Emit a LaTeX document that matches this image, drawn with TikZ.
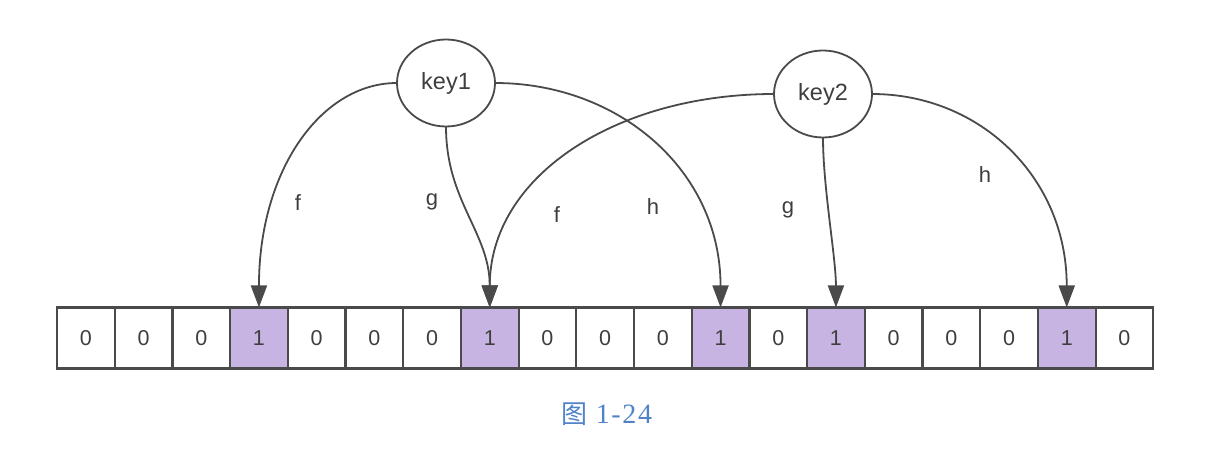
\documentclass[tikz,border=0pt]{standalone}
\usepackage{fontspec}
\setmainfont{Liberation Sans}
\newfontfamily\cjkfont{Noto Sans CJK SC}
\newfontfamily\capfont[LetterSpace=6]{Liberation Serif}
\usetikzlibrary{arrows.meta,shapes.geometric}
\definecolor{linecol}{RGB}{74,74,74}
\definecolor{txtcol}{RGB}{62,62,62}
\definecolor{bitfill}{RGB}{200,180,226}
\definecolor{capblue}{RGB}{80,130,198}
\tikzset{
  cellbox/.style={draw=linecol, line width=2.2pt, minimum width=57.7pt, minimum height=61pt,
    inner sep=0pt, outer sep=0pt, text=txtcol, font=\fontsize{21.5}{24}\selectfont},
  onebox/.style={cellbox, fill=bitfill},
  keynode/.style={draw=linecol, line width=1.8pt, ellipse, minimum width=98pt, minimum height=87pt,
    inner sep=0pt, outer sep=0pt, text=txtcol, font=\fontsize{23.5}{26}\selectfont},
  hashline/.style={draw=linecol, line width=1.8pt, -{Triangle[length=22pt,width=16pt]}},
  hashlabel/.style={text=txtcol, font=\fontsize{22}{24}\selectfont, inner sep=0pt}
}
\begin{document}
\begin{tikzpicture}[x=1pt,y=-1pt]
\useasboundingbox (0,0) rectangle (1227,457);
\foreach \i/\v in {0/0,1/0,2/0,3/1,4/0,5/0,6/0,7/1,8/0,9/0,10/0,11/1,12/0,13/1,14/0,15/0,16/0,17/1,18/0}{
  \ifnum\v=1
    \node[onebox] (c\i) at ({57+57.7*(\i+0.5)},338) {\v};
  \else
    \node[cellbox] (c\i) at ({57+57.7*(\i+0.5)},338) {\v};
  \fi
}
\node[keynode] (k1) at (446,83) {key1};
\node[keynode] (k2) at (823,94) {key2};
% key1 connectors
\draw[hashline] (k1.west) .. controls +(-76,0) and +(0,-137) .. (c3.north);
\draw[hashline] (k1.south) .. controls +(0,75) and +(0,-75) .. (c7.north);
\draw[hashline] (k1.east) .. controls +(124,0) and +(0,-137) .. (c11.north);
% key2 connectors
\draw[hashline] (k2.west) .. controls +(-157,0) and +(0,-132) .. (c7.north);
\draw[hashline] (k2.south) .. controls +(0,50) and +(0,-50) .. (c13.north);
\draw[hashline] (k2.east) .. controls +(108,0) and +(0,-130) .. (c17.north);
% labels
\node[hashlabel] (lf1) at (298,203) {f};
\node[hashlabel] (lg1) at (432,202) {g};
\node[hashlabel] (lf2) at (557,215) {f};
\node[hashlabel] (lh1) at (653,207) {h};
\node[hashlabel] (lg2) at (788,210) {g};
\node[hashlabel] (lh2) at (985,175) {h};
% caption
\node[text=capblue, inner sep=0pt] (cap) at (607,414)
  {\cjkfont\fontsize{26}{30}\selectfont 图\hspace{8pt}\capfont\fontsize{28}{30}\selectfont 1-24};
\end{tikzpicture}
\end{document}
